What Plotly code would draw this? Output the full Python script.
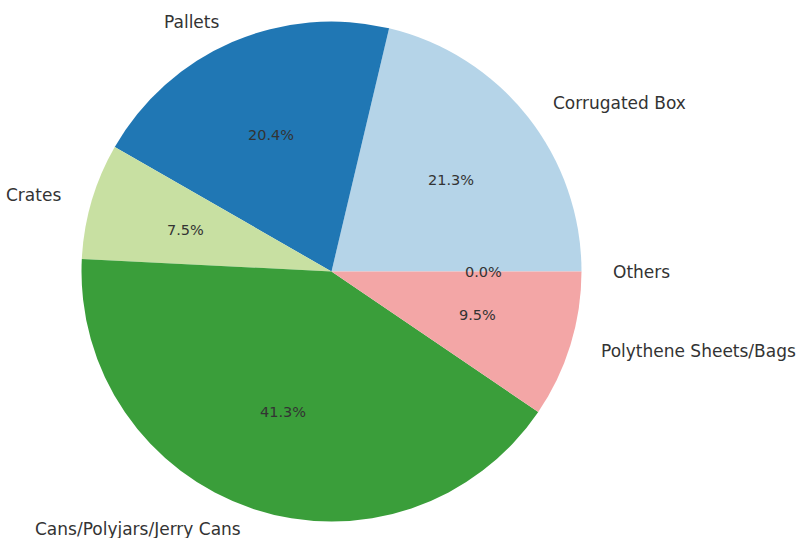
import math
import plotly.graph_objects as go

labels = ["Corrugated Box", "Pallets", "Crates", "Cans/Polyjars/Jerry Cans",
          "Polythene Sheets/Bags", "Others"]
shares = [21.3, 20.4, 7.5, 41.3, 9.5, 0.0]
colors = ["#b5d4e8", "#2077b4", "#c8e0a2", "#3a9e3a", "#f3a6a6", "#e31a1c"]

W, H = 798, 538
cx, cy = 331.5, 271.5          # pie centre in pixels (from top-left)
r = 250                        # pie radius in pixels
rx, ry = 254, 247              # radii used for placing the text

total = sum(shares)
# plotly puts the first counterclockwise slice clockwise of `rotation`,
# so offset by its size to make it start at 3 o'clock
rotation = 90 - 360 * shares[0] / total

fig = go.Figure(go.Pie(
    labels=labels,
    values=shares,
    sort=False,
    direction="counterclockwise",
    rotation=rotation,
    marker=dict(colors=colors, line=dict(width=0)),
    textinfo="none",
    hoverinfo="label+percent",
    showlegend=False,
    domain=dict(x=[(cx - r) / W, (cx + r) / W],
                y=[(H - cy - r) / H, (H - cy + r) / H]),
))

font = "DejaVu Sans, Arial, sans-serif"
cum = 0.0
annotations = []
for lab, v in zip(labels, shares):
    theta = 2 * math.pi * (cum + v / 2) / total
    cum += v
    c, s = math.cos(theta), math.sin(theta)
    # category label just outside the rim
    lx = cx + 1.1 * rx * c
    ly = cy - 1.1 * ry * s
    annotations.append(dict(
        x=lx / W, y=(H - ly) / H, xref="paper", yref="paper",
        text=lab, showarrow=False,
        xanchor="left" if c > 0 else "right", yanchor="middle",
        font=dict(family=font, size=17, color="#333333"),
    ))
    # percentage inside the slice
    px = cx + 0.6 * rx * c
    py = cy - 0.6 * ry * s
    annotations.append(dict(
        x=px / W, y=(H - py) / H, xref="paper", yref="paper",
        text=f"{v:.1f}%", showarrow=False,
        xanchor="center", yanchor="middle",
        font=dict(family=font, size=14.5, color="#333333"),
    ))

fig.update_layout(
    width=W, height=H,
    margin=dict(l=0, r=0, t=0, b=0),
    paper_bgcolor="white",
    plot_bgcolor="white",
    annotations=annotations,
)

fig.write_html("out.html")
